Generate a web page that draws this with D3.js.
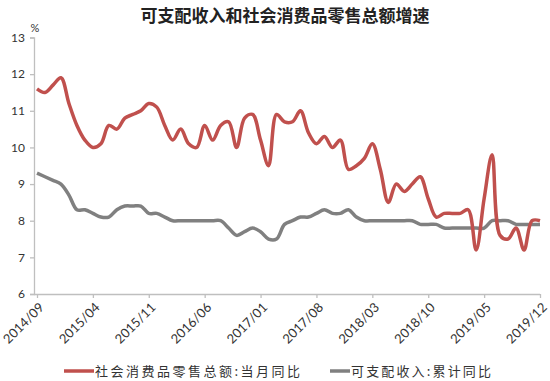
<!DOCTYPE html>
<meta charset="utf-8">
<style>
body { margin: 0; background: #fff; }
.axis text { fill: #333; font: 12px Lato, "Liberation Sans", sans-serif; }
.axis path, .axis line { stroke: #bfbfbf; stroke-width: 1.3; }
.title { font: bold 17px "Noto Sans CJK SC", sans-serif; fill: #222; }
.legend text { font: 13px "Noto Sans CJK SC", sans-serif; fill: #333; }
</style>
<svg width="550" height="381"></svg>
<script src="https://cdn.jsdelivr.net/npm/d3@7"></script>
<script>

var months = [
  "2014/09","2014/10","2014/11","2014/12",
  "2015/01","2015/02","2015/03","2015/04","2015/05","2015/06","2015/07","2015/08","2015/09","2015/10","2015/11","2015/12",
  "2016/01","2016/02","2016/03","2016/04","2016/05","2016/06","2016/07","2016/08","2016/09","2016/10","2016/11","2016/12",
  "2017/01","2017/02","2017/03","2017/04","2017/05","2017/06","2017/07","2017/08","2017/09","2017/10","2017/11","2017/12",
  "2018/01","2018/02","2018/03","2018/04","2018/05","2018/06","2018/07","2018/08","2018/09","2018/10","2018/11","2018/12",
  "2019/01","2019/02","2019/03","2019/04","2019/05","2019/06","2019/07","2019/08","2019/09","2019/10","2019/11","2019/12"
];

// 社会消费品零售总额:当月同比
var retail = [
  11.6, 11.5, 11.7, 11.9,
  11.2, 10.6, 10.2, 10.0, 10.1, 10.6, 10.5, 10.8, 10.9, 11.0, 11.2, 11.1,
  10.6, 10.2, 10.5, 10.1, 10.0, 10.6, 10.2, 10.6, 10.7, 10.0, 10.8, 10.9,
  10.2, 9.5, 10.9, 10.7, 10.7, 11.0, 10.4, 10.1, 10.3, 10.0, 10.2, 9.4,
  9.5, 9.7, 10.1, 9.4, 8.5, 9.0, 8.8, 9.0, 9.2, 8.6, 8.1, 8.2,
  8.2, 8.2, 8.3, 7.2, 8.6, 9.8, 7.6, 7.5, 7.8, 7.2, 8.0, 8.0
];

// 可支配收入:累计同比
var income = [
  9.3, 9.2, 9.1, 9.0,
  8.7, 8.3, 8.3, 8.2, 8.1, 8.1, 8.3, 8.4, 8.4, 8.4, 8.2, 8.2,
  8.1, 8.0, 8.0, 8.0, 8.0, 8.0, 8.0, 8.0, 7.8, 7.6, 7.7, 7.8,
  7.7, 7.5, 7.5, 7.9, 8.0, 8.1, 8.1, 8.2, 8.3, 8.2, 8.2, 8.3,
  8.1, 8.0, 8.0, 8.0, 8.0, 8.0, 8.0, 8.0, 7.9, 7.9, 7.9, 7.8,
  7.8, 7.8, 7.8, 7.8, 7.8, 8.0, 8.0, 8.0, 7.9, 7.9, 7.9, 7.9
];

var tickLabels = ["2014/09","2015/04","2015/11","2016/06","2017/01","2017/08","2018/03","2018/10","2019/05","2019/12"];
var yTicks = [6, 7, 8, 9, 10, 11, 12, 13];
var seriesNames = ["社会消费品零售总额:当月同比", "可支配收入:累计同比"];
var seriesColors = ["#c0504d", "#808080"];

var svg = d3.select("svg");

var x = d3.scaleLinear().domain([0, months.length - 1]).range([37, 540]);
var y = d3.scaleLinear().domain([6, 13]).range([294, 37.5]);

svg.append("text")
    .attr("class", "title")
    .attr("x", 285)
    .attr("y", 22)
    .attr("text-anchor", "middle")
    .text("可支配收入和社会消费品零售总额增速");

// y axis
svg.append("g")
    .attr("class", "axis")
    .attr("transform", "translate(34,0)")
    .call(d3.axisLeft(y).tickValues(yTicks).tickSize(4).tickPadding(5).tickFormat(d3.format("d")));

svg.append("text")
    .attr("x", 35)
    .attr("y", 32)
    .attr("text-anchor", "middle")
    .style("font", "11px Lato, sans-serif")
    .style("fill", "#333")
    .text("%");

// x axis
var xAxis = svg.append("g")
    .attr("class", "axis")
    .attr("transform", "translate(0," + y(6) + ")")
    .call(d3.axisBottom(x)
      .tickValues(tickLabels.map(function(t) { return months.indexOf(t); }))
      .tickSize(4)
      .tickFormat(function(i) { return months[i]; }));

xAxis.select(".domain").attr("d", "M34,0.5H540");

xAxis.selectAll("text")
    .attr("text-anchor", "end")
    .attr("x", 0)
    .attr("y", 0)
    .attr("dy", "0.35em")
    .attr("transform", "translate(4,11) rotate(-45)")
    .style("font-size", "13px");

var line = d3.line()
    .x(function(d, i) { return x(i); })
    .y(function(d) { return y(d); })
    .curve(d3.curveCatmullRom.alpha(0.5));

[income, retail].forEach(function(s, k) {
  svg.append("path")
      .attr("d", line(s))
      .attr("fill", "none")
      .attr("stroke", seriesColors[1 - k])
      .attr("stroke-width", 3.5)
      .attr("stroke-linejoin", "round");
});

// legend
var legend = svg.append("g").attr("class", "legend");
var lx = [64, 330], lw = [30, 20], tw = [205, 140];
seriesNames.forEach(function(name, i) {
  legend.append("line")
      .attr("x1", lx[i]).attr("x2", lx[i] + lw[i])
      .attr("y1", 371).attr("y2", 371)
      .attr("stroke", seriesColors[i])
      .attr("stroke-width", 3.5);
  legend.append("text")
      .attr("x", lx[i] + lw[i] + 1)
      .attr("y", 375.5)
      .attr("textLength", tw[i])
      .attr("lengthAdjust", "spacing")
      .text(name);
});

</script>
